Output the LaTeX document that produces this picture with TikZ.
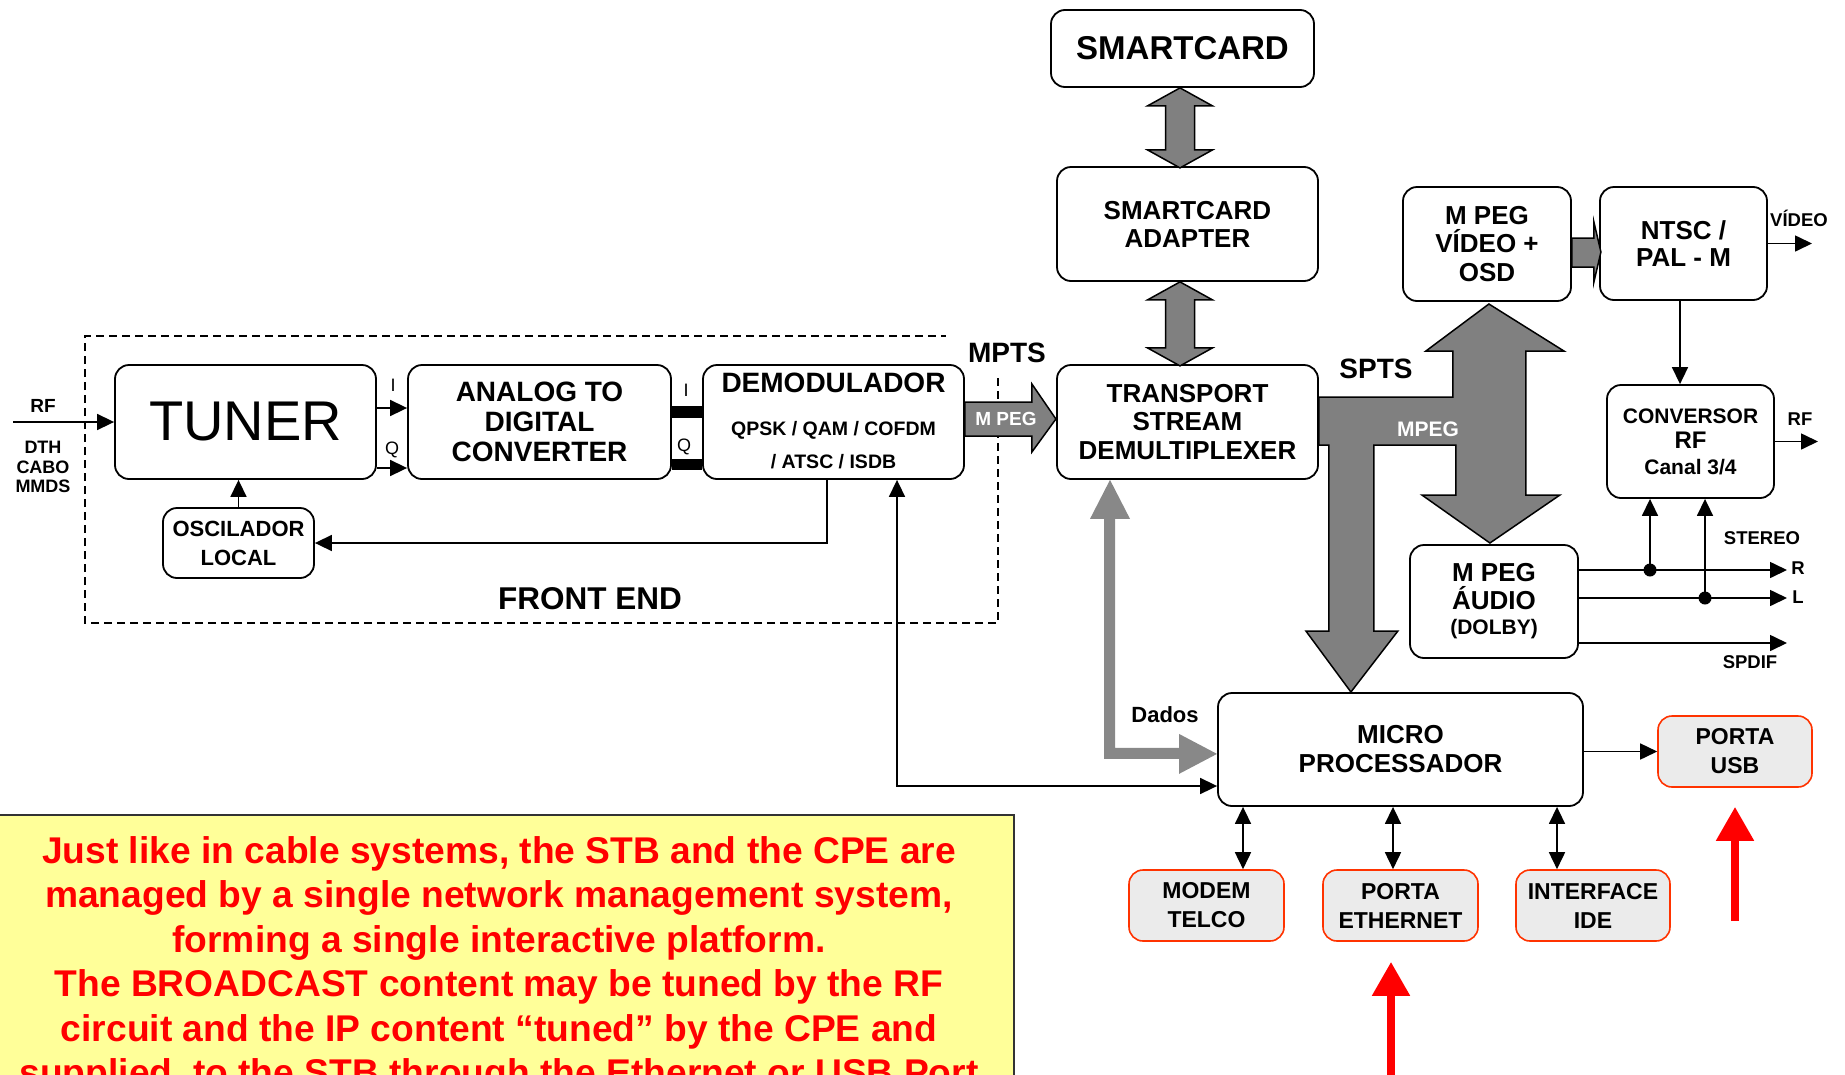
\documentclass[tikz,border=0pt]{standalone}
\usepackage{fontspec}
\setmainfont{Liberation Sans}
\usetikzlibrary{arrows.meta}

\definecolor{busgray}{RGB}{128,128,128}
\definecolor{datagray}{RGB}{136,136,136}
\definecolor{portedge}{RGB}{255,51,0}
\definecolor{portfill}{RGB}{235,235,235}
\definecolor{notefill}{RGB}{255,255,153}
\definecolor{notetext}{RGB}{255,0,0}

\newcommand\fsz[2]{\fontsize{#1pt}{#2pt}\selectfont}

\tikzset{
  blk/.style={draw=black, line width=1.8pt, rounded corners=14pt, fill=white,
    inner sep=0pt, align=center, font=\bfseries},
  port/.style={blk, draw=portedge, fill=portfill, line width=1.6pt},
  lbl/.style={inner sep=0pt, font=\bfseries},
  wire/.style={line width=1.6pt},
  arr/.style={wire, -{Triangle[length=17pt,width=16pt]}},
  darr/.style={wire, {Triangle[length=17pt,width=16pt]}-{Triangle[length=17pt,width=16pt]}},
  garrow/.style={fill=busgray, draw=black, line width=1.5pt, line join=miter},
  dataarrow/.style={fill=datagray, draw=none},
  redarr/.style={draw=notetext, line width=8pt, -{Triangle[length=34pt,width=36pt]}},
  frontend/.style={line width=1.8pt, dash pattern=on 8pt off 5pt},
}

\begin{document}
\begin{tikzpicture}[x=1pt, y=-1pt]
\useasboundingbox (0,0) rectangle (1845,1074);
\clip (0,0) rectangle (1845,1074);

% ---------- front end ----------
\draw[frontend] (998,378) -- (998,623) -- (85,623) -- (85,336) -- (946,336);

\node[blk, minimum width=261pt, minimum height=114pt, font=\fsz{56}{60}] (tuner) at (245.5,422) {TUNER};
\node[blk, minimum width=263pt, minimum height=114pt, font=\bfseries\fsz{28}{30}] (adc) at (539.5,422) {ANALOG TO\\DIGITAL\\CONVERTER};
\node[blk, minimum width=261pt, minimum height=114pt] (demod) at (833.5,422) {};
\node[lbl, font=\bfseries\fsz{28}{30}] (demodT) at (833.5,383) {DEMODULADOR};
\node[lbl, font=\bfseries\fsz{19.5}{24}] (demodA) at (833.5,430) {QPSK / QAM / COFDM};
\node[lbl, font=\bfseries\fsz{19.5}{24}] (demodB) at (833.5,462) {/ ATSC / ISDB};
\node[blk, minimum width=151pt, minimum height=70pt, font=\bfseries\fsz{22}{29}] (osc) at (238.5,543) {OSCILADOR\\LOCAL};

\node[lbl, font=\bfseries\fsz{31.5}{34}] (felbl) at (590,599) {FRONT END};
\node[lbl, font=\bfseries\fsz{28}{30}] (mpts) at (1007,353) {MPTS};

\node[lbl, font=\bfseries\fsz{19}{20}] (rflbl) at (43,406) {RF};
\node[lbl, font=\bfseries\fsz{18}{19.5}, align=center] (srcs) at (43,467) {DTH\\CABO\\MMDS};
\node[lbl, font=\fsz{18}{20}] (ilbl) at (393,385) {I};
\node[lbl, font=\fsz{18}{20}] (qlbl) at (392,450) {Q};
\node[lbl, font=\fsz{18}{20}] (i2lbl) at (686,390) {I};
\node[lbl, font=\fsz{18}{20}] (q2lbl) at (684,447) {Q};

\coordinate (rfin) at (13,422);
\draw[arr] (rfin) -- (tuner.west);
\draw[arr] ([yshift=14pt]tuner.east) -- ([yshift=14pt]adc.west);
\draw[arr] ([yshift=-46pt]tuner.east) -- ([yshift=-46pt]adc.west);
\draw[line width=12pt] ([yshift=10.5pt]adc.east) -- ([yshift=10.5pt]demod.west);
\draw[line width=11pt] ([yshift=-42.5pt]adc.east) -- ([yshift=-42.5pt]demod.west);
\draw[arr] (osc.north) -- (osc.north |- tuner.south);
\draw[arr] ([xshift=-6.5pt]demod.south) |- (osc.east);

% ---------- conditional access and demultiplexing ----------
\node[blk, minimum width=263pt, minimum height=77pt, font=\bfseries\fsz{33}{36}] (smart) at (1182.5,48.5) {SMARTCARD};
\node[blk, minimum width=261pt, minimum height=114pt, font=\bfseries\fsz{26}{28}] (adapt) at (1187.5,224) {SMARTCARD\\ADAPTER};
\node[blk, minimum width=261pt, minimum height=114pt, font=\bfseries\fsz{26}{28.5}] (tsd) at (1187.5,422) {TRANSPORT\\STREAM\\DEMULTIPLEXER};

\draw[garrow] ([xshift=-2.5pt]smart.south) -- ++(32.5,18) -- ++(-18,0) -- ++(0,44) -- ++(18,0) -- ++(-32.5,18)
  -- ++(-32.5,-18) -- ++(18,0) -- ++(0,-44) -- ++(-18,0) -- cycle;
\draw[garrow] ([xshift=-7.5pt]adapt.south) -- ++(32.5,18) -- ++(-18,0) -- ++(0,48) -- ++(18,0) -- ++(-32.5,18)
  -- ++(-32.5,-18) -- ++(18,0) -- ++(0,-48) -- ++(-18,0) -- cycle;

% MPTS from the demodulator
\draw[garrow] ([yshift=20pt]demod.east) -- ++(67,0) -- ++(0,-18) -- ++(24,35) -- ++(-24,33) -- ++(0,-16) -- ++(-67,0) -- cycle;
\node[lbl, font=\bfseries\fsz{19}{20}, text=white] (mpeg1) at (1006,419) {M PEG};

% ---------- decoders ----------
\node[blk, minimum width=168pt, minimum height=114pt, font=\bfseries\fsz{26}{28.5}] (mvid) at (1487,244) {M PEG\\VÍDEO +\\OSD};
\node[blk, minimum width=167pt, minimum height=113pt, font=\bfseries\fsz{26}{27}] (ntsc) at (1683.5,243.5) {NTSC /\\PAL - M};
\node[blk, minimum width=167pt, minimum height=113pt, font=\bfseries\fsz{21}{25.5}] (conv) at (1690.5,441.5) {CONVERSOR\\{\fsz{24}{25.5}RF}\\Canal 3/4};
\node[blk, minimum width=168pt, minimum height=113pt, font=\bfseries\fsz{26}{28}] (maud) at (1494,601.5) {M PEG\\ÁUDIO\\[-3pt]{\fsz{21}{25}(DOLBY)}};
\node[blk, minimum width=365pt, minimum height=113pt, font=\bfseries\fsz{26}{29}] (micro) at (1400.5,749.5) {MICRO\\PROCESSADOR};

% SPTS bus: demultiplexer to video, audio and processor
\draw[garrow] ([yshift=25pt]tsd.east) -- ++(134,0) -- ++(0,-46) -- ++(-27,0) -- ++(63,-47) -- ++(75,47)
  -- ++(-38,0) -- ++(0,144) -- ++(34,0) -- ++(-70,48) -- ++(-68,-48) -- ++(34,0) -- ++(0,-50)
  -- ++(-82,0) -- ++(0,186) -- ++(24,0) -- ++(-47,61) -- ++(-45,-61) -- ++(23,0) -- ++(0,-186)
  -- ++(-10,0) -- cycle;
\node[lbl, font=\bfseries\fsz{28}{30}] (spts) at (1376,369) {SPTS};
\node[lbl, font=\bfseries\fsz{21}{22}, text=white] (mpeg2) at (1428,429) {MPEG};

\draw[garrow] ([yshift=6pt]mvid.east) -- ++(22,0) -- ++(0,-16) -- ++(7,30) -- ++(-7,30) -- ++(0,-15) -- ++(-22,0) -- cycle;

% Dados path between processor and demultiplexer
\path[dataarrow] ([xshift=-77.5pt]tsd.south) -- ++(20,39) -- ++(-15,0) -- ++(0,229) -- ++(64,0) -- ++(0,-14)
  -- ++(38,20) -- ++(-38,20) -- ++(0,-15) -- ++(-75,0) -- ++(0,-240) -- ++(-14,0) -- cycle;
\node[lbl, font=\bfseries\fsz{22}{24}] (dados) at (1165,715) {Dados};

\draw[darr] ([xshift=63.5pt]demod.south) |- ([yshift=-36.5pt]micro.west);

% ---------- outputs ----------
\coordinate (vidout) at (1812,243.5);
\coordinate (rfout) at (1818,441.5);
\coordinate (rout) at (1787,570);
\coordinate (lout) at (1787,598);
\coordinate (spout) at (1787,643);
\coordinate (dotR) at (1650,570);
\coordinate (dotL) at (1705,598);

\draw[arr] (ntsc.east) -- (vidout);
\draw[arr] ([xshift=-3.5pt]ntsc.south) -- ([xshift=-10.5pt]conv.north);
\draw[arr] (conv.east) -- (rfout);
\draw[arr] ([yshift=31.5pt]maud.east) -- (rout);
\draw[arr] ([yshift=3.5pt]maud.east) -- (lout);
\draw[arr] ([yshift=-41.5pt]maud.east) -- (spout);
\fill (dotR) circle (6.5pt);
\fill (dotL) circle (6.5pt);
\draw[arr] (dotR) -- (dotR |- conv.south);
\draw[arr] (dotL) -- (dotL |- conv.south);

\node[lbl, font=\bfseries\fsz{18.5}{20}, anchor=base] (vidlbl) at (1799,226) {VÍDEO};
\node[lbl, font=\bfseries\fsz{18.5}{20}] (rfoutlbl) at (1800,419) {RF};
\node[lbl, font=\bfseries\fsz{18.5}{20}] (stereo) at (1762,538) {STEREO};
\node[lbl, font=\bfseries\fsz{18.5}{20}] (rlbl) at (1798,568) {R};
\node[lbl, font=\bfseries\fsz{18.5}{20}] (llbl) at (1798,597) {L};
\node[lbl, font=\bfseries\fsz{18.5}{20}] (spdif) at (1750,662) {SPDIF};

% ---------- processor ports ----------
\node[port, minimum width=154pt, minimum height=71pt, font=\bfseries\fsz{23}{29}] (usb) at (1735,751.5) {PORTA\\USB};
\node[port, minimum width=155pt, minimum height=71pt, font=\bfseries\fsz{23}{29}] (modem) at (1206.5,905.5) {MODEM\\TELCO};
\node[port, minimum width=155pt, minimum height=71pt, font=\bfseries\fsz{23}{29}] (eth) at (1400.5,905.5) {PORTA\\ETHERNET};
\node[port, minimum width=154pt, minimum height=71pt, font=\bfseries\fsz{23}{29}] (ide) at (1593,905.5) {INTERFACE\\IDE};

\draw[arr] ([yshift=-2pt]micro.east) -- (usb.west);
\draw[darr] ([xshift=-157.5pt]micro.south) -- ([xshift=36.5pt]modem.north);
\draw[darr] ([xshift=-7.5pt]micro.south) -- ([xshift=-7.5pt]eth.north);
\draw[darr] ([xshift=156.5pt]micro.south) -- ([xshift=-36pt]ide.north);

\coordinate (usbsrc) at (1735,921);
\coordinate (ethsrc) at (1391,1090);
\draw[redarr] (usbsrc) -- ([yshift=-19pt]usb.south);
\draw[redarr] (ethsrc) -- ([xshift=-9.5pt,yshift=-20pt]eth.south);

% ---------- note ----------
\draw[fill=notefill, draw=black!80, line width=2.5pt] (-20,815) rectangle (1014,1130);
\node[font=\bfseries\fsz{37.2}{44.5}, text=notetext, align=center, anchor=north, inner sep=0pt] (note) at (499,836)
  {Just like in cable systems, the STB and the CPE are\\
   managed by a single network management system,\\
   forming a single interactive platform.\\
   The BROADCAST content may be tuned by the RF\\
   circuit and the IP content “tuned” by the CPE and\\
   supplied, to the STB through the Ethernet or USB Port};
\end{tikzpicture}
\end{document}
